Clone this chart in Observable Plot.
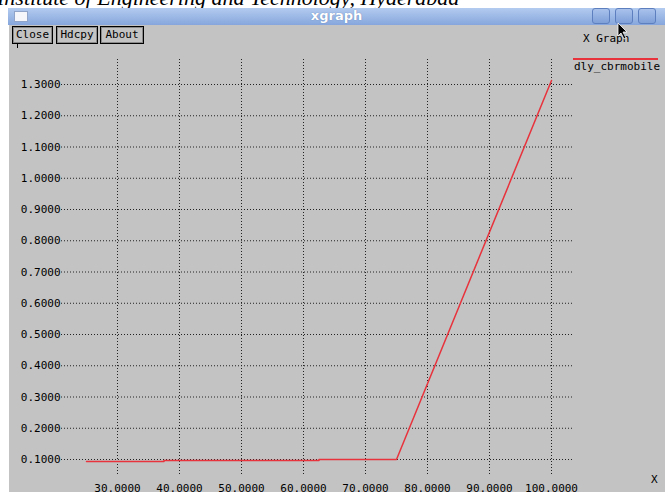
<!DOCTYPE html>
<html>
<head>
<meta charset="utf-8">
<script src="https://cdn.jsdelivr.net/npm/d3@7"></script>
<script src="https://cdn.jsdelivr.net/npm/@observablehq/plot@0.6"></script>
<style>
  html, body { margin: 0; padding: 0; background: #fff; }
  #page { position: relative; width: 665px; height: 497px; overflow: hidden; background: #fff; }
  .abs { position: absolute; }
  #inst { left: -3px; top: -15px; font: italic 22px "Liberation Serif", serif; color: #000; white-space: nowrap; }
  #titlebar { left: 8px; top: 8px; width: 657px; height: 17px; background: linear-gradient(#b3cbef, #86a6dc); }
  #title { left: 8px; top: 9px; width: 657px; text-align: center; font: bold 13px "DejaVu Sans", sans-serif; color: #fff; line-height: 14px; text-shadow: 0 0 1px #4d6fa8; }
  #icon { left: 14px; top: 11px; width: 12px; height: 9px; background: #f4f6fb; border: 1px solid #8fa4c8; }
  .wbtn { top: 8px; width: 16px; height: 14px; border: 1px solid #5d7fbf; border-radius: 3px; background: linear-gradient(#a9c2ec, #7f9fd8); }
  #win { left: 9px; top: 25px; width: 656px; height: 467px; background: #c3c3c3; }
  .btn { top: 26px; height: 16px; border: 1px solid #000; box-shadow: inset 0 0 0 1px #8a8a8a; font: 11px "DejaVu Sans Mono", monospace; line-height: 16px; text-align: center; color: #000; }
  .lab { font: 11px "DejaVu Sans Mono", monospace; color: #000; white-space: nowrap; }
  #chart { position: absolute; left: 0; top: 0; }
</style>
</head>
<body>
<div id="page">
  <div class="abs" id="inst">Institute of Engineering and Technology, Hyderabad</div>
  <div class="abs" id="titlebar"></div>
  <div class="abs" id="icon"></div>
  <div class="abs" id="title">xgraph</div>
  <div class="abs wbtn" style="left:592px"></div>
  <div class="abs wbtn" style="left:615px"></div>
  <div class="abs wbtn" style="left:638px"></div>
  <div class="abs" id="win"></div>
  <div class="abs btn" style="left:12px;width:39px">Close</div>
  <div class="abs btn" style="left:56px;width:40px">Hdcpy</div>
  <div class="abs btn" style="left:100px;width:42px">About</div>
  <div class="abs" style="left:17px;top:44px;width:1px;height:4px;background:#000"></div>
  <div class="abs lab" style="left:583px;top:32px">X Graph</div>
  <div class="abs" style="left:573px;top:58px;width:85px;height:2px;background:#e8323c"></div>
  <div class="abs lab" style="left:574px;top:60px">dly_cbrmobile</div>
  <div class="abs lab" style="left:651px;top:473px">X</div>
  <svg class="abs" style="left:617px;top:22px" width="12" height="18" viewBox="0 0 12 18"><polygon points="1,1 1,14 4,11 7,17 9,16 6,10 10,10" fill="#000" stroke="#fff" stroke-width="0.8"/></svg>
  <div id="chart"></div>
</div>
<script>
// Data: dly_cbrmobile series
const xValues = [25, 37.5, 37.5, 62.5, 62.5, 75, 100];
const yValues = [0.094, 0.094, 0.097, 0.097, 0.1, 0.1, 1.313];

// Tick values
const xTicks = [30, 40, 50, 60, 70, 80, 90, 100];
const yTicks = [0.1, 0.2, 0.3, 0.4, 0.5, 0.6, 0.7, 0.8, 0.9, 1.0, 1.1, 1.2, 1.3];

// Grid extents (data units)
const gridX = [20.97, 103.7];
const gridY = [0.052, 1.3832];

const series = xValues.map((x, i) => ({x, y: yValues[i]}));
const mono = "DejaVu Sans Mono, monospace";

const chart = Plot.plot({
  width: 665,
  height: 497,
  x: {type: "linear", domain: [30, 100], range: [117, 551], axis: null},
  y: {type: "linear", domain: [0.1, 1.3], range: [459, 84], axis: null},
  style: {background: "transparent", overflow: "visible"},
  marks: [
    Plot.ruleX(xTicks, {x: d => d, y1: gridY[0], y2: gridY[1], stroke: "#222", strokeWidth: 1, strokeDasharray: "1,2"}),
    Plot.ruleY(yTicks, {y: d => d, x1: gridX[0], x2: gridX[1], stroke: "#222", strokeWidth: 1, strokeDasharray: "1,2"}),
    Plot.text(yTicks, {x: gridX[0], y: d => d, text: d => d.toFixed(4), textAnchor: "end", dx: -1, fontFamily: mono, fontSize: 11, fill: "#000"}),
    Plot.text(xTicks, {x: d => d, y: gridY[0], text: d => d.toFixed(4), dy: 14, fontFamily: mono, fontSize: 11, fill: "#000"}),
    Plot.line(series, {x: "x", y: "y", stroke: "#e8323c", strokeWidth: 1.5})
  ]
});
document.getElementById("chart").appendChild(chart);
</script>
</body>
</html>
